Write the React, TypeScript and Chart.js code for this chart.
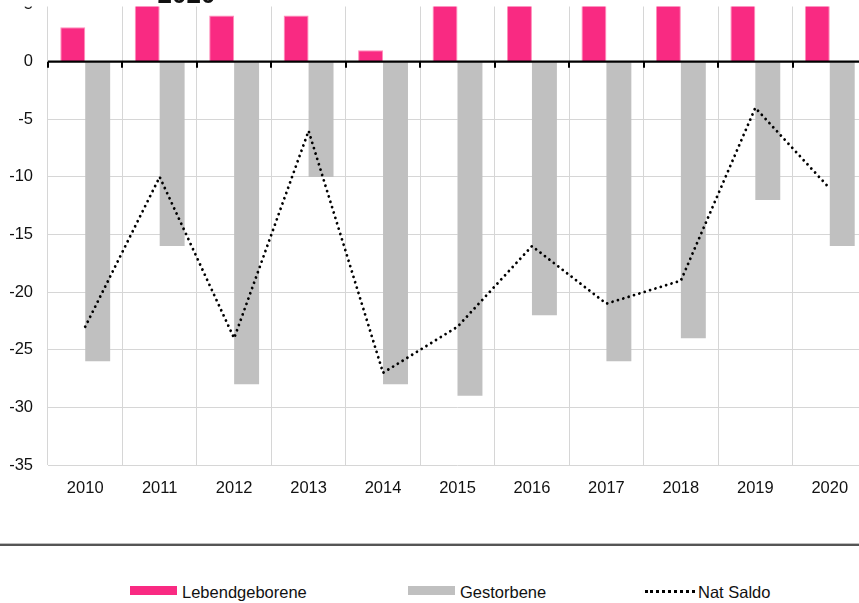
import { useEffect, useRef } from "react";
import { Chart, registerables } from "chart.js";

Chart.register(...registerables);

// Natural population movement per year
const years = ["2010", "2011", "2012", "2013", "2014", "2015", "2016", "2017", "2018", "2019", "2020"];
const lebendgeborene = [3, 6, 4, 4, 1, 6, 6, 5, 5, 8, 5];
const gestorbene = [-26, -16, -28, -10, -28, -29, -22, -26, -24, -12, -16];
const natSaldo = [-23, -10, -24, -6, -27, -23, -16, -21, -19, -4, -11];
const yMin = -35;
const yMax = 5;
const yStep = 5;
const titleYear = "2020";

const FONT = '"Liberation Sans", Arial, sans-serif';
const TEXT = "#111111";
const GRID = "#d6d6d6";

const CANVAS_W = 900;
const CANVAS_H = 520;

// Bold zero axis with category ticks, plus the title band above the plot
const zeroAxisPlugin = {
  id: "zeroAxis",
  afterDatasetsDraw(chart: any) {
    const { ctx, chartArea, scales } = chart;
    const y0 = scales.y.getPixelForValue(0);
    const n = years.length;
    const w = (chartArea.right - chartArea.left) / n;
    ctx.save();
    ctx.strokeStyle = "#000";
    ctx.lineWidth = 2.2;
    ctx.beginPath();
    ctx.moveTo(chartArea.left, y0);
    ctx.lineTo(chartArea.right, y0);
    ctx.stroke();
    ctx.lineWidth = 2;
    ctx.beginPath();
    for (let i = 0; i <= n; i++) {
      const x = Math.round(chartArea.left + i * w);
      ctx.moveTo(x, y0);
      ctx.lineTo(x, y0 + 6);
    }
    ctx.stroke();
    ctx.restore();
  },
  afterDraw(chart: any) {
    const { ctx } = chart;
    ctx.save();
    ctx.fillStyle = "#fff";
    ctx.fillRect(0, 0, chart.width, 6.5);
    ctx.fillStyle = TEXT;
    ctx.font = `bold 26px ${FONT}`;
    ctx.textAlign = "center";
    ctx.textBaseline = "alphabetic";
    ctx.fillText(titleYear, 186.5, 3);
    ctx.restore();
  },
};

function BevoelkerungChart() {
  const ref = useRef<HTMLCanvasElement | null>(null);

  useEffect(() => {
    const canvas = ref.current;
    if (!canvas) return;
    const chart = new Chart(canvas, {
      type: "bar",
      data: {
        labels: years,
        datasets: [
          {
            type: "line",
            label: "Nat Saldo",
            data: natSaldo,
            borderColor: "#000",
            borderWidth: 2.8,
            borderDash: [0.01, 5.6],
            borderCapStyle: "round",
            pointRadius: 0,
            fill: false,
            tension: 0,
            order: 0,
          } as any,
          {
            type: "bar",
            label: "Lebendgeborene",
            data: lebendgeborene,
            backgroundColor: "#F92A82",
            borderColor: "#FF8DBA",
            borderWidth: 1,
            categoryPercentage: 0.67,
            barPercentage: 1,
            clip: 0,
            order: 1,
          },
          {
            type: "bar",
            label: "Gestorbene",
            data: gestorbene,
            backgroundColor: "#C0C0C0",
            borderWidth: 0,
            categoryPercentage: 0.67,
            barPercentage: 1,
            clip: 0,
            order: 1,
          },
        ],
      },
      options: {
        responsive: false,
        maintainAspectRatio: false,
        animation: false,
        devicePixelRatio: 1,
        layout: { padding: { top: 4.1, right: 33, left: 0, bottom: 0 } },
        plugins: {
          legend: { display: false },
          tooltip: { enabled: false },
          title: { display: false },
        },
        scales: {
          x: {
            type: "category",
            offset: true,
            grid: { offset: true, color: GRID, lineWidth: 1, drawTicks: false },
            border: { display: false },
            ticks: {
              color: TEXT,
              font: { family: FONT, size: 16.5 },
              padding: 14,
              maxRotation: 0,
              autoSkip: false,
            },
            afterFit(scale: any) {
              scale.height = 55;
              scale.paddingLeft = 0;
              scale.paddingRight = 0;
            },
          },
          y: {
            type: "linear",
            min: yMin,
            max: yMax,
            grid: { color: GRID, lineWidth: 1, drawTicks: false },
            border: { display: false },
            ticks: {
              stepSize: yStep,
              color: TEXT,
              font: { family: FONT, size: 16.5 },
              padding: 15,
            },
            afterFit(scale: any) {
              scale.width = 48;
              scale.paddingTop = 0;
              scale.paddingBottom = 0;
            },
          },
        },
      },
      plugins: [zeroAxisPlugin],
    });
    return () => chart.destroy();
  }, []);

  return (
    <canvas
      ref={ref}
      width={CANVAS_W}
      height={CANVAS_H}
      style={{ position: "absolute", left: 0, top: 0, width: CANVAS_W, height: CANVAS_H }}
    />
  );
}

const legendText: React.CSSProperties = {
  position: "absolute",
  top: 582,
  fontFamily: FONT,
  fontSize: 16.5,
  lineHeight: "20px",
  color: TEXT,
  whiteSpace: "nowrap",
};

export default function App() {
  return (
    <div
      style={{
        position: "fixed",
        left: 0,
        top: 0,
        width: 859,
        height: 603,
        overflow: "hidden",
        background: "#fff",
      }}
    >
      <BevoelkerungChart />
      <div style={{ position: "absolute", left: 0, top: 543, width: 859, height: 1, background: "#bdbdbd" }} />
      <div style={{ position: "absolute", left: 0, top: 544, width: 859, height: 2, background: "#555" }} />

      <div style={{ position: "absolute", left: 130, top: 586, width: 47, height: 9, background: "#F92A82" }} />
      <div style={{ ...legendText, left: 182 }}>Lebendgeborene</div>

      <div style={{ position: "absolute", left: 408, top: 586, width: 47, height: 9, background: "#C0C0C0" }} />
      <div style={{ ...legendText, left: 460 }}>Gestorbene</div>

      <div style={{ position: "absolute", left: 645, top: 590, width: 50, height: 0, borderTop: "3px dotted #000" }} />
      <div style={{ ...legendText, left: 698 }}>Nat Saldo</div>
    </div>
  );
}
